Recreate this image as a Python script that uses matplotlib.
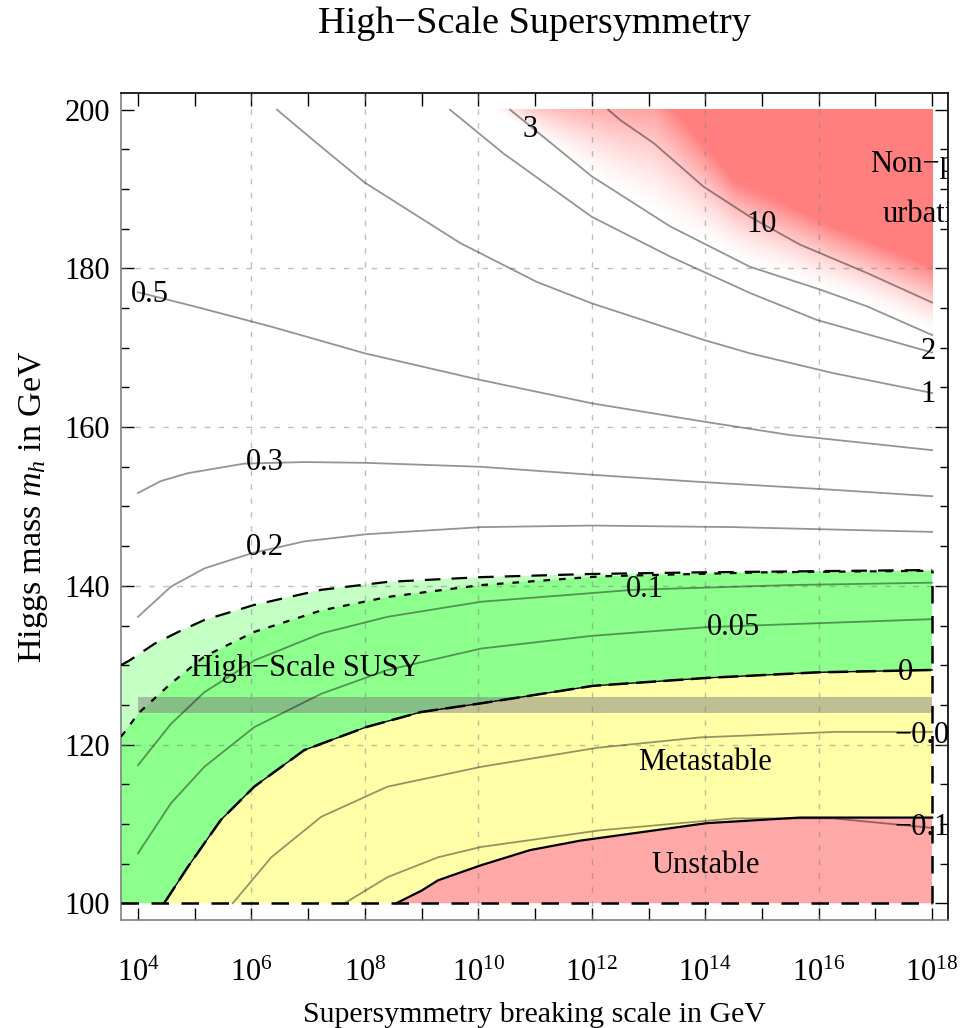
import numpy as np
import matplotlib.pyplot as plt
from matplotlib.ticker import MultipleLocator

plt.rcParams['font.family'] = ['Liberation Serif', 'DejaVu Serif']
plt.rcParams['mathtext.fontset'] = 'custom'
plt.rcParams['mathtext.rm'] = 'Liberation Serif'
plt.rcParams['mathtext.it'] = 'Liberation Serif:italic'

# x values are log10(M_SUSY / GeV), y values are m_h in GeV
# upper edge of the light green band (dashed)
dash_x = [3.70, 3.85, 4.29, 4.74, 5.17, 6.05, 7.23, 8.40, 10.05, 12.0, 13.9, 18.0]
dash_y = [130.0, 130.6, 132.7, 134.3, 135.7, 137.6, 139.5, 140.5, 141.1, 141.5, 141.7, 142.0]
# upper edge of the dark green band (dotted)
dot_x = [3.70, 3.79, 4.0, 4.58, 5.17, 6.05, 7.23, 8.40, 10.05, 12.15, 15.0, 18.0]
dot_y = [121.0, 121.8, 123.9, 127.7, 131.1, 134.2, 136.9, 138.6, 140.1, 141.2, 141.7, 141.9]
# stable / metastable boundary (contour 0)
meta_x = [4.46, 4.88, 5.46, 6.05, 6.93, 8.02, 8.99, 10.05, 12.02, 14.03, 15.97, 18.0]
meta_y = [100.0, 104.6, 110.5, 114.7, 119.3, 122.2, 124.1, 125.2, 127.4, 128.4, 129.1, 129.4]
# metastable / unstable boundary
unst_x = [8.55, 9.0, 9.29, 10.05, 10.91, 11.8, 14.03, 15.67, 18.0]
unst_y = [100.0, 101.6, 102.9, 104.8, 106.7, 107.9, 110.1, 110.8, 110.8]
# non-perturbative region: full red above this line
red_x = [13.1, 13.45, 14.49, 16.26, 18.0]
red_y = [203.0, 200.0, 191.2, 185.2, 180.2]

# contour lines
c10_x = [12.29, 12.50, 13.09, 13.97, 14.79, 15.67, 16.86, 18.0]
c10_y = [200.0, 198.7, 195.8, 190.3, 186.5, 183.0, 179.4, 175.7]
c3_x = [10.56, 12.0, 13.38, 14.79, 16.0, 16.86, 18.0]
c3_y = [200.0, 191.6, 185.3, 180.2, 177.4, 175.2, 171.6]
c2_x = [9.5, 10.44, 12.0, 13.38, 14.79, 15.97, 18.0]
c2_y = [200.0, 194.5, 186.5, 181.5, 176.9, 173.5, 169.4]
c1_x = [6.45, 7.15, 8.0, 9.68, 11.03, 12.0, 13.97, 14.79, 16.26, 18.0]
c1_y = [200.0, 195.8, 190.8, 183.2, 178.3, 175.6, 171.0, 169.3, 166.8, 164.3]
c05_x = [4.0, 5.0, 6.33, 8.0, 10.0, 12.0, 13.97, 15.5, 18.0]
c05_y = [177.0, 175.2, 172.7, 169.3, 166.0, 163.0, 160.7, 159.0, 157.1]
c03_x = [4.0, 4.4, 4.88, 5.87, 6.93, 8.02, 10.05, 12.0, 13.9, 16.26, 18.0]
c03_y = [151.7, 153.2, 154.2, 155.4, 155.6, 155.5, 155.0, 154.0, 153.1, 152.1, 151.3]
c02_x = [4.0, 4.58, 5.17, 6.0, 6.93, 8.02, 10.05, 12.0, 14.5, 18.0]
c02_y = [136.1, 139.9, 142.2, 144.1, 145.6, 146.5, 147.4, 147.6, 147.4, 146.8]
c01_x = [4.0, 4.58, 5.17, 6.05, 7.23, 8.40, 10.05, 12.73, 15.5, 18.0]
c01_y = [117.4, 122.6, 126.6, 130.6, 134.0, 136.1, 138.0, 139.5, 140.1, 140.4]
c005_x = [4.0, 4.58, 5.17, 6.05, 7.23, 8.40, 10.05, 12.0, 14.03, 18.0]
c005_y = [106.3, 112.6, 117.2, 122.2, 126.4, 129.4, 132.1, 133.7, 134.8, 135.8]
cm005_x = [5.67, 6.35, 7.23, 8.40, 10.05, 12.1, 13.9, 16.3, 18.0]
cm005_y = [100.0, 105.8, 110.9, 114.7, 117.2, 119.6, 120.9, 121.6, 121.6]
cm01_x = [7.64, 8.40, 9.29, 10.05, 12.15, 14.5, 16.26, 18.0]
cm01_y = [100.0, 103.3, 105.8, 107.1, 109.2, 110.7, 110.7, 109.5]

# measured Higgs mass band
band_lo, band_hi = 124.0, 126.0

xticks = list(range(4, 19, 2))
yticks = list(range(100, 201, 20))
grid_x = [6, 8, 10, 12, 14, 16]
grid_y = [120, 140, 160, 180]

fig = plt.figure(figsize=(9.61, 10.28), dpi=100)
ax = fig.add_axes([0.1259, 0.1051, 0.8606, 0.8044])

# non-perturbative shading, fading from about contour 3 up to the red line
gx = np.linspace(3.7, 18.0, 700)
gy = np.linspace(100.0, 200.0, 500)
X, Y = np.meshgrid(gx, gy)
lo = np.interp(gx, [9.9, 10.25] + c3_x[1:], [203.0, 200.0] + c3_y[1:])
hi = np.interp(gx, red_x, red_y)
t = np.clip((Y - lo) / np.maximum(hi - lo, 1e-6), 0, 1) ** 1.5
img = np.zeros(X.shape + (4,))
img[..., 0] = 1.0
img[..., 1] = 0.5
img[..., 2] = 0.5
img[..., 3] = t
ax.imshow(img, extent=[3.7, 18.0, 100.0, 200.0], origin='lower',
          aspect='auto', interpolation='bilinear', zorder=1)

# coloured regions
ax.fill(dash_x + dot_x[::-1], dash_y + dot_y[::-1], color='#c4ffc4', lw=0, zorder=1)
ax.fill(dot_x + meta_x[::-1] + [3.70], dot_y + meta_y[::-1] + [100.0],
        color='#8cff8c', lw=0, zorder=1)
ax.fill(meta_x + unst_x[::-1], meta_y + unst_y[::-1], color='#ffffa8', lw=0, zorder=1)
ax.fill(unst_x + [18.0], unst_y + [100.0], color='#ffa8a8', lw=0, zorder=1)

ax.fill_between([4.0, 18.0], band_lo, band_hi, color='#808080', alpha=0.5, lw=0, zorder=2)

for gxv in grid_x:
    ax.axvline(gxv, color='#808080', alpha=0.5, lw=1, ls=(0, (4, 6)), zorder=2)
for gyv in grid_y:
    ax.axhline(gyv, color='#808080', alpha=0.5, lw=1, ls=(0, (4, 6)), zorder=2)

# contours
for cx, cy in [(c10_x, c10_y), (c3_x, c3_y), (c2_x, c2_y), (c1_x, c1_y),
               (c05_x, c05_y), (c03_x, c03_y), (c02_x, c02_y), (c01_x, c01_y),
               (c005_x, c005_y), (cm005_x, cm005_y), (cm01_x, cm01_y)]:
    ax.plot(cx, cy, color='black', alpha=0.42, lw=1.3, zorder=3)

# region boundaries
ax.plot(dash_x, dash_y, color='black', lw=1.6, ls=(0, (7, 5)), zorder=4)
ax.plot(dot_x, dot_y, color='black', lw=1.6, ls=(0, (3, 4)), zorder=4)
ax.plot(meta_x, meta_y, color='black', lw=1.0, zorder=4)
ax.plot(meta_x, meta_y, color='black', lw=1.8, ls=(0, (8, 3)), zorder=4)
ax.plot(unst_x, unst_y, color='black', lw=1.6, zorder=4)
ax.plot([18.0, 18.0], [100.0, dash_y[-1]], color='black', lw=1.8, ls=(0, (7, 5)), zorder=4)
ax.plot([3.70, 18.0], [100.0, 100.0], color='black', lw=1.8, ls=(0, (7, 5)), zorder=4)

# contour labels
fs = 22
lab = dict(fontsize=fs, ha='center', va='center', zorder=5, clip_on=True)
ax.text(4.21, 176.7, '0.5', **lab)
ax.text(10.91, 197.5, '3', **lab)
ax.text(15.0, 185.5, '10', **lab)
ax.text(17.93, 169.5, '2', **lab)
ax.text(17.93, 164.1, '1', **lab)
ax.text(6.24, 155.6, '0.3', **lab)
ax.text(6.24, 144.8, '0.2', **lab)
ax.text(12.94, 139.5, '0.1', **lab)
ax.text(14.49, 134.8, '0.05', **lab)
ax.text(17.53, 129.1, '0', **lab)
ax.text(17.33, 121.2, '\u22120.05', fontsize=fs, ha='left', va='center', zorder=5, clip_on=True)
ax.text(17.33, 109.5, '\u22120.1', fontsize=fs, ha='left', va='center', zorder=5, clip_on=True)

# region labels
ax.text(6.95, 129.6, 'High\u2212Scale SUSY', **lab)
ax.text(14.0, 117.8, 'Metastable', **lab)
ax.text(14.0, 104.8, 'Unstable', **lab)
ax.text(16.91, 193.1, 'Non\u2212pert', fontsize=fs, ha='left', va='center', zorder=5, clip_on=True)
ax.text(17.12, 186.8, 'urbative', fontsize=fs, ha='left', va='center', zorder=5, clip_on=True)

ax.set_xlim(3.70, 18.28)
ax.set_ylim(97.9, 202.1)

ax.set_xticks(xticks)
ax.set_xticklabels([r'$10^{%d}$' % k for k in xticks])
ax.xaxis.set_minor_locator(MultipleLocator(1))
ax.set_yticks(yticks)
ax.yaxis.set_minor_locator(MultipleLocator(5))
ax.tick_params(axis='both', which='both', direction='in', top=True, right=True,
               labelsize=fs)
ax.tick_params(axis='x', which='both', length=9, width=1, pad=28)
ax.tick_params(axis='y', which='major', length=9.5, width=1, pad=8)
ax.tick_params(axis='y', which='minor', length=5.5, width=1)

for s in ['left', 'bottom']:
    ax.spines[s].set_color('#808080')
for s in ['top', 'right']:
    ax.spines[s].set_color('black')
for s in ax.spines.values():
    s.set_linewidth(1.2)

ax.set_xlabel('Supersymmetry breaking scale in GeV', fontsize=21.5, labelpad=10)
ax.set_ylabel(r'Higgs mass $m_h$ in GeV', fontsize=24.5, labelpad=10)
fig.text(0.5557, 1 - 24 / 1028, 'High\u2212Scale Supersymmetry', fontsize=27.5,
         ha='center', va='center')

fig.savefig('out.png', dpi=100)
